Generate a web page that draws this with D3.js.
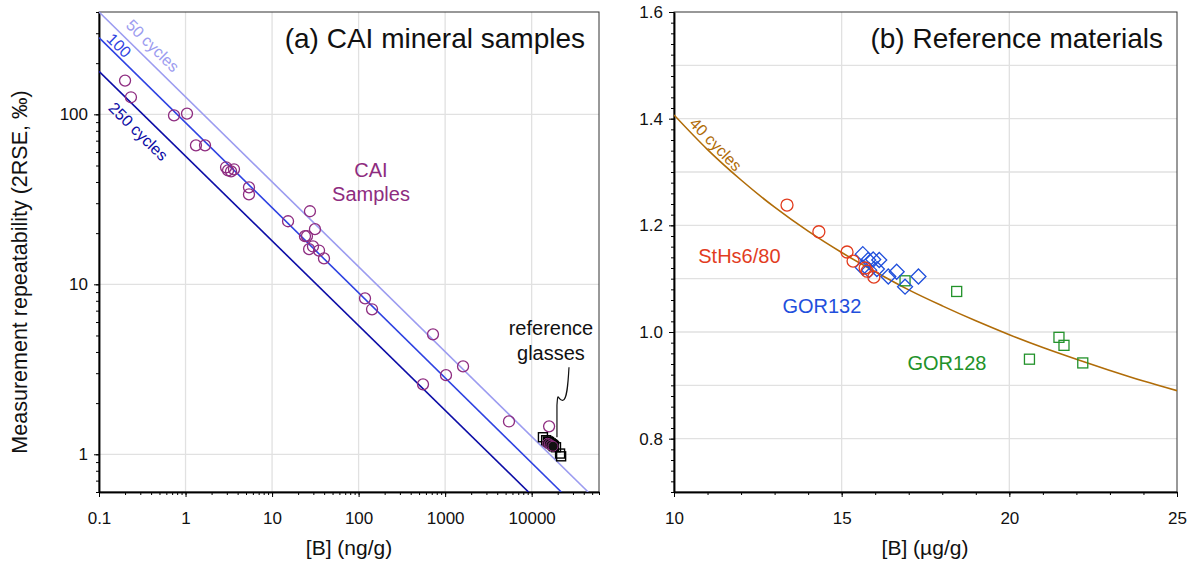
<!DOCTYPE html>
<html>
<head>
<meta charset="utf-8">
<script src="https://cdn.jsdelivr.net/npm/d3@7"></script>
<style>
body { margin: 0; background: #fff; }
svg { font-family: "Liberation Sans", Arial, Helvetica, sans-serif; }
</style>
</head>
<body>
<div id="chart"></div>
<script>
// ---- panel (a): CAI mineral samples, [B] in ng/g vs 2RSE (permil)
const caiB   = [0.2, 0.234, 0.736, 1.04, 1.32, 1.68, 2.94, 3.1, 3.36, 3.63, 5.41, 5.41,
                27.4, 15.3, 31.3, 24.0, 25.3, 29.7, 26.8, 34.9, 39.8, 118.6, 143,
                724, 1611, 1023, 555, 5470, 15900];
const caiRSE = [158, 126, 98.6, 101, 65.7, 65.7, 48.8, 46.8, 46.2, 47.5, 37.2, 33.8,
                26.9, 23.5, 21.1, 19.2, 19.2, 16.7, 16.1, 15.8, 14.2, 8.27, 7.13,
                5.08, 3.29, 2.92, 2.58, 1.56, 1.46];
// reference glasses (black squares) and the dark filled circles in the cluster
const glassB   = [13500, 14700, 15400, 15900, 16600, 17200, 17700, 18100, 19100, 21300, 21900];
const glassRSE = [1.26, 1.21, 1.19, 1.18, 1.16, 1.145, 1.13, 1.115, 1.10, 1.01, 0.973];
const darkB    = [15260, 16000, 16700, 17650];
const darkRSE  = [1.16, 1.15, 1.13, 1.115];
// cycle lines: end points
const cycleNames = ["50 cycles", "100", "250 cycles"];
const cycleB     = [[0.1, 45000], [0.1, 22000], [0.1, 9200]];
const cycleRSE   = [[400, 0.6], [282.6, 0.6], [179, 0.6]];
const xTicksA = [0.1, 1, 10, 100, 1000, 10000];
const yTicksA = [1, 10, 100];

// ---- panel (b): reference materials, [B] in ug/g
const sthsB     = [13.37, 14.32, 15.16, 15.34, 15.70, 15.76, 15.96];
const sthsRSE   = [1.238, 1.188, 1.150, 1.133, 1.120, 1.114, 1.103];
const gor132B   = [15.63, 15.79, 15.94, 16.12, 15.63, 15.82, 16.05, 16.39, 16.64, 16.89, 17.29];
const gor132RSE = [1.146, 1.135, 1.136, 1.135, 1.121, 1.116, 1.118, 1.104, 1.113, 1.085, 1.104];
const gor128B   = [16.89, 18.43, 21.48, 21.63, 20.60, 22.19];
const gor128RSE = [1.096, 1.076, 0.990, 0.975, 0.949, 0.942];
const curveB    = [10, 11, 12, 13, 14, 15, 16, 17, 18, 19, 20, 21, 22, 23, 24, 25];
const curveRSE  = [1.407, 1.342, 1.285, 1.234, 1.189, 1.149, 1.113, 1.079, 1.049, 1.021,
                   0.995, 0.971, 0.949, 0.928, 0.908, 0.890];
const xTicksB = [10, 15, 20, 25];
const yTicksB = [0.8, 1.0, 1.2, 1.4, 1.6];

const W = 1195, H = 563;
const svg = d3.select("#chart").append("svg").attr("width", W).attr("height", H);

const xA = d3.scaleLog().domain([0.1, 60000]).range([99, 599]);
const yA = d3.scaleLog().domain([0.6, 400]).range([492, 12]);
const xB = d3.scaleLinear().domain([10, 25]).range([674, 1177]);
const yB = d3.scaleLinear().domain([0.7, 1.6]).range([492, 12]);

function minorLog(lo, hi) {
    const out = [];
    for (let e = Math.floor(Math.log10(lo)); e <= Math.ceil(Math.log10(hi)); e++) {
        for (let m = 1; m < 10; m++) {
            const v = m * Math.pow(10, e);
            if (v >= lo * 0.999 && v <= hi * 1.001) out.push(v);
        }
    }
    return out;
}

const gridColor = "#e1e1e1";
const fs = 17;

function frame(id, x, y, gx, gy) {
    const [x0, x1] = x.range(), [y0, y1] = y.range();
    const g = svg.append("g");
    g.append("clipPath").attr("id", id)
        .append("rect").attr("x", x0).attr("y", y1).attr("width", x1 - x0).attr("height", y0 - y1);
    g.selectAll(".gx").data(gx).enter().append("line")
        .attr("x1", d => x(d)).attr("x2", d => x(d)).attr("y1", y1).attr("y2", y0)
        .attr("stroke", gridColor).attr("stroke-width", 1.3);
    g.selectAll(".gy").data(gy).enter().append("line")
        .attr("x1", x0).attr("x2", x1).attr("y1", d => y(d)).attr("y2", d => y(d))
        .attr("stroke", gridColor).attr("stroke-width", 1.3);
    g.append("rect").attr("x", x0).attr("y", y1).attr("width", x1 - x0).attr("height", y0 - y1)
        .attr("fill", "none").attr("stroke", "#333").attr("stroke-width", 1);
    return g;
}

function axes(x, y, xMaj, xMin, yMaj, yMin, fmtX, fmtY) {
    const [x0] = x.range(), [y0] = y.range();
    const bx = svg.append("g").attr("transform", `translate(0,${y0})`);
    bx.call(d3.axisBottom(x).tickValues(xMin).tickSize(3).tickSizeOuter(0).tickFormat(""));
    bx.append("g").call(d3.axisBottom(x).tickValues(xMaj).tickSize(5).tickSizeOuter(0)
        .tickPadding(15).tickFormat(fmtX));
    const ly = svg.append("g").attr("transform", `translate(${x0},0)`);
    ly.call(d3.axisLeft(y).tickValues(yMin).tickSize(3).tickSizeOuter(0).tickFormat(""));
    ly.append("g").call(d3.axisLeft(y).tickValues(yMaj).tickSize(5).tickSizeOuter(0)
        .tickPadding(6).tickFormat(fmtY));
    svg.selectAll(".domain").attr("stroke", "#000").attr("stroke-width", 1.5);
    svg.selectAll(".tick line").attr("stroke", "#000");
    svg.selectAll(".tick text").attr("font-size", fs).attr("fill", "#111")
        .attr("font-family", "Liberation Sans, Arial, sans-serif");
}

// rotated text sitting along a line at point (px,py)
function lineLabel(g, txt, px, py, ang, off, color, size) {
    g.append("text")
        .attr("transform", `translate(${px},${py}) rotate(${ang})`)
        .attr("y", off)
        .attr("font-size", size)
        .attr("fill", color)
        .text(txt);
}

// ================= panel (a)
const gA = frame("clipA", xA, yA, [1, 10, 100, 1000, 10000], yTicksA);
axes(xA, yA, xTicksA, minorLog(0.1, 60000), yTicksA, minorLog(0.6, 400), d3.format("~g"), d3.format("~g"));

const cycleColors = ["#9c9cf0", "#2e42e2", "#0c0ca6"];
const lnA = d3.line().x(d => xA(d[0])).y(d => yA(d[1]));
const pA = svg.append("g").attr("clip-path", "url(#clipA)");
cycleNames.forEach((n, i) => {
    const pts = cycleB[i].map((b, j) => [b, cycleRSE[i][j]]);
    pA.append("path").attr("d", lnA(pts))
        .attr("fill", "none").attr("stroke", cycleColors[i]).attr("stroke-width", 1.6);
});

// labels on the cycle lines
const labelAt = [0.172, 0.1127, 0.185];
const labelOff = [-8, -3, 21];
cycleNames.forEach((n, i) => {
    const p0 = [xA(cycleB[i][0]), yA(cycleRSE[i][0])];
    const p1 = [xA(cycleB[i][1]), yA(cycleRSE[i][1])];
    const ang = Math.atan2(p1[1] - p0[1], p1[0] - p0[0]) * 180 / Math.PI;
    const px = xA(labelAt[i]);
    const py = p0[1] + (px - p0[0]) * (p1[1] - p0[1]) / (p1[0] - p0[0]);
    lineLabel(svg, n, px, py, ang, labelOff[i], cycleColors[i], 16);
});

const purple = "#8e2c80";
pA.selectAll(".cai").data(caiB).enter().append("circle")
    .attr("cx", d => xA(d)).attr("cy", (d, i) => yA(caiRSE[i])).attr("r", 5.5)
    .attr("fill", "none").attr("stroke", purple).attr("stroke-width", 1.3);

pA.selectAll(".glass").data(glassB).enter().append("rect")
    .attr("x", d => xA(d) - 4.5).attr("y", (d, i) => yA(glassRSE[i]) - 4.5)
    .attr("width", 9).attr("height", 9)
    .attr("fill", "none").attr("stroke", "#000").attr("stroke-width", 1.4);

pA.selectAll(".dark").data(darkB).enter().append("circle")
    .attr("cx", d => xA(d)).attr("cy", (d, i) => yA(darkRSE[i])).attr("r", 5)
    .attr("fill", "#111").attr("stroke", purple).attr("stroke-width", 1);

// annotations
svg.append("text").attr("x", xA(139)).attr("y", yA(42.8)).attr("text-anchor", "middle")
    .attr("font-size", 20).attr("fill", purple).text("CAI");
svg.append("text").attr("x", xA(139)).attr("y", yA(30.9)).attr("text-anchor", "middle")
    .attr("font-size", 20).attr("fill", purple).text("Samples");

svg.append("text").attr("x", xA(16700)).attr("y", yA(5.01)).attr("text-anchor", "middle")
    .attr("font-size", 20).attr("fill", "#111").text("reference");
svg.append("text").attr("x", xA(16700)).attr("y", yA(3.57)).attr("text-anchor", "middle")
    .attr("font-size", 20).attr("fill", "#111").text("glasses");

// squiggly leader from the text to the glass cluster
const ls = [xA(27000), yA(3.25)], le = [xA(19600), yA(1.26)];
svg.append("path")
    .attr("d", `M${ls[0]},${ls[1]} C${ls[0] - 1},${ls[1] + 18} ${ls[0] - 2},${ls[1] + 32} ${ls[0] - 6},${ls[1] + 33}`
        + ` C${ls[0] - 11},${ls[1] + 34} ${le[0] + 1},${ls[1] + 22} ${le[0]},${ls[1] + 38} L${le[0]},${le[1]}`)
    .attr("fill", "none").attr("stroke", "#111").attr("stroke-width", 1.2);

svg.append("text").attr("x", 585).attr("y", 48).attr("text-anchor", "end")
    .attr("font-size", 28).attr("fill", "#111").text("(a) CAI mineral samples");

// ================= panel (b)
const gB = frame("clipB", xB, yB, [15, 20], d3.range(8, 16).map(d => d / 10));
axes(xB, yB, xTicksB, d3.range(10, 26), yTicksB, d3.range(35, 81).map(d => d / 50),
    d3.format("d"), d3.format(".1f"));

const pB = svg.append("g").attr("clip-path", "url(#clipB)");
const brown = "#b06c08";
pB.append("path")
    .attr("d", d3.line().curve(d3.curveMonotoneX).x(d => xB(d)).y((d, i) => yB(curveRSE[i]))(curveB))
    .attr("fill", "none").attr("stroke", brown).attr("stroke-width", 1.6);

// "40 cycles" label along the curve
{
    const b = 10.35, i0 = 0;
    const ang = Math.atan2(yB(curveRSE[1]) - yB(curveRSE[0]), xB(curveB[1]) - xB(curveB[0])) * 180 / Math.PI;
    const py = yB(curveRSE[i0]) + (xB(b) - xB(curveB[0])) * (yB(curveRSE[1]) - yB(curveRSE[0])) / (xB(curveB[1]) - xB(curveB[0]));
    lineLabel(svg, "40 cycles", xB(b), py, ang, -4, brown, 16);
}

const red = "#e23c1e", blue = "#1f4fdc", green = "#22922a";
pB.selectAll(".gor128").data(gor128B).enter().append("rect")
    .attr("x", d => xB(d) - 5).attr("y", (d, i) => yB(gor128RSE[i]) - 5)
    .attr("width", 10).attr("height", 10)
    .attr("fill", "none").attr("stroke", green).attr("stroke-width", 1.3);

pB.selectAll(".gor132").data(gor132B).enter().append("path")
    .attr("d", (d, i) => {
        const cx = xB(d), cy = yB(gor132RSE[i]), s = 7.5;
        return `M${cx},${cy - s} L${cx + s},${cy} L${cx},${cy + s} L${cx - s},${cy} Z`;
    })
    .attr("fill", "none").attr("stroke", blue).attr("stroke-width", 1.3);

pB.selectAll(".sths").data(sthsB).enter().append("circle")
    .attr("cx", d => xB(d)).attr("cy", (d, i) => yB(sthsRSE[i])).attr("r", 6)
    .attr("fill", "none").attr("stroke", red).attr("stroke-width", 1.3);

svg.append("text").attr("x", xB(11.95)).attr("y", yB(1.129)).attr("text-anchor", "middle")
    .attr("font-size", 20).attr("fill", red).text("StHs6/80");
svg.append("text").attr("x", xB(14.41)).attr("y", yB(1.036)).attr("text-anchor", "middle")
    .attr("font-size", 20).attr("fill", blue).text("GOR132");
svg.append("text").attr("x", xB(18.14)).attr("y", yB(0.929)).attr("text-anchor", "middle")
    .attr("font-size", 20).attr("fill", green).text("GOR128");

svg.append("text").attr("x", 1163).attr("y", 48).attr("text-anchor", "end")
    .attr("font-size", 28).attr("fill", "#111").text("(b) Reference materials");

// axis titles
svg.append("text").attr("transform", "translate(27,272) rotate(-90)").attr("text-anchor", "middle")
    .attr("font-size", 21.5).attr("fill", "#111").text("Measurement repeatability (2RSE, ‰)");
svg.append("text").attr("x", 349).attr("y", 555).attr("text-anchor", "middle")
    .attr("font-size", 21).attr("fill", "#111").text("[B] (ng/g)");
svg.append("text").attr("x", 925).attr("y", 555).attr("text-anchor", "middle")
    .attr("font-size", 21).attr("fill", "#111").text("[B] (µg/g)");
</script>
</body>
</html>
